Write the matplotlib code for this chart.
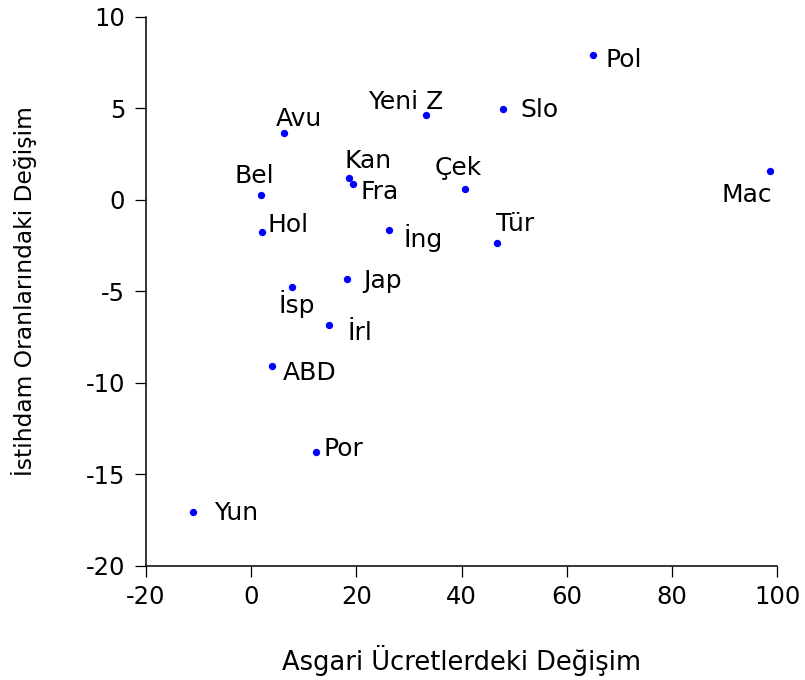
import matplotlib
matplotlib.use("Agg")
import matplotlib.pyplot as plt

plt.rcParams['font.family'] = ['DejaVu Sans']
plt.rcParams['axes.unicode_minus'] = False

countries = ["Pol", "Slo", "Yeni Z", "Avu", "Kan", "Fra", "Çek", "Mac", "Bel",
             "Hol", "İng", "Tür", "Jap", "İsp", "İrl", "ABD", "Por", "Yun"]
wage_change = [65.0, 47.8, 33.2, 6.3, 18.5, 19.4, 40.6, 98.7, 1.8,
               2.1, 26.1, 46.8, 18.2, 7.8, 14.8, 3.9, 12.4, -11.1]
emp_change = [7.91, 4.97, 4.63, 3.63, 1.20, 0.84, 0.58, 1.57, 0.26,
              -1.75, -1.66, -2.38, -4.33, -4.79, -6.86, -9.07, -13.77, -17.08]

# label placement (offset in pixels from the point, horizontal alignment)
label_offsets = {
    "Pol": (12, -12, "left"), "Slo": (18, -8, "left"), "Yeni Z": (17, 6, "right"),
    "Avu": (-9, 7, "left"), "Kan": (-4, 10, "left"), "Fra": (7, -15, "left"),
    "Çek": (-30, 14, "left"), "Mac": (2, -31, "right"), "Bel": (-26, 12, "left"),
    "Hol": (5, 0, "left"), "İng": (15, -17, "left"), "Tür": (-1, 12, "left"),
    "Jap": (16, -9, "left"), "İsp": (-14, -26, "left"), "İrl": (18, -15, "left"),
    "ABD": (11, -14, "left"), "Por": (7, -4, "left"), "Yun": (21, -8, "left"),
}

x_ticks = [-20, 0, 20, 40, 60, 80, 100]
y_ticks = [-20, -15, -10, -5, 0, 5, 10]

fig = plt.figure(figsize=(8.05, 6.8), dpi=100)
ax = fig.add_axes([0.18137, 0.16809, 0.78422, 0.80735])

ax.scatter(wage_change, emp_change, s=28, color="#0000FF", zorder=3, linewidths=0)

for name, xv, yv in zip(countries, wage_change, emp_change):
    dx, dy, ha = label_offsets[name]
    ax.annotate(name, (xv, yv), xytext=(dx, dy), textcoords="offset pixels",
                ha=ha, va="baseline", fontsize=18, color="black")

ax.set_xlim(-20, 100)
ax.set_ylim(-20, 10)
ax.set_xticks(x_ticks)
ax.set_yticks(y_ticks)
ax.spines['top'].set_visible(False)
ax.spines['right'].set_visible(False)
for sp in ['left', 'bottom']:
    ax.spines[sp].set_linewidth(1.1)
ax.tick_params(axis='both', direction='out', length=8, width=0.9, labelsize=17.5)
ax.tick_params(axis='x', pad=6)
ax.tick_params(axis='y', pad=7)

ax.set_xlabel("Asgari Ücretlerdeki Değişim", fontsize=18.5)
ax.set_ylabel("İstihdam Oranlarındaki Değişim", fontsize=16.8)
ax.xaxis.set_label_coords(0.5, -0.145)
ax.yaxis.set_label_coords(-0.1725, 0.5)

fig.savefig("out.png", dpi=100)
